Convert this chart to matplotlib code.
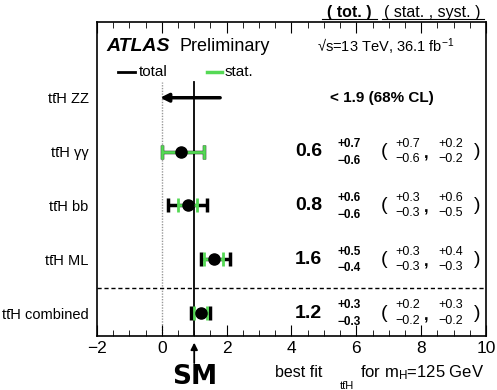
import matplotlib
matplotlib.use("Agg")
import matplotlib.pyplot as plt
from matplotlib.ticker import MultipleLocator

plt.rcParams['font.family'] = ['Liberation Sans', 'DejaVu Sans']
plt.rcParams['mathtext.fontset'] = 'custom'
plt.rcParams['mathtext.rm'] = 'Liberation Sans'
plt.rcParams['mathtext.it'] = 'Liberation Sans:italic'
plt.rcParams['mathtext.bf'] = 'Liberation Sans:bold'

# channels, bottom to top
channels = ['tt\u0304H combined', 'tt\u0304H ML', 'tt\u0304H bb', 'tt\u0304H \u03b3\u03b3', 'tt\u0304H ZZ']
mu = [1.2, 1.6, 0.8, 0.6]
tot_up = [0.3, 0.5, 0.6, 0.7]
tot_dn = [0.3, 0.4, 0.6, 0.6]
stat_up = [0.2, 0.3, 0.3, 0.7]
stat_dn = [0.2, 0.3, 0.3, 0.6]
syst_up = [0.3, 0.4, 0.6, 0.2]
syst_dn = [0.2, 0.3, 0.5, 0.2]
zz_limit = 1.9
xticks = [-2, 0, 2, 4, 6, 8, 10]

green = '#55d955'
ypos = list(range(len(mu)))

fig = plt.figure(figsize=(4.97, 3.9), dpi=100)
ax = fig.add_axes([0.195, 0.138, 0.783, 0.806])

ax.plot([1, 1], [-0.43, 4.3], color='black', lw=1.3, zorder=1)
ax.plot([0, 0], [-0.43, 4.3], color='#999999', lw=1, ls=(0, (1, 1)), zorder=1)
ax.axhline(0.47, color='black', lw=1, ls=(0, (3, 2)))

ax.errorbar(mu, ypos, xerr=[tot_dn, tot_up], fmt='none', ecolor='black',
            elinewidth=2.5, capsize=5, capthick=2.5, zorder=2)
ax.errorbar(mu, ypos, xerr=[stat_dn, stat_up], fmt='none', ecolor=green,
            elinewidth=2, capsize=5, capthick=2, zorder=3)
ax.plot(mu, ypos, 'o', color='black', ms=8, zorder=4)

# ZZ upper limit arrow
ax.annotate('', xy=(-0.05, 4), xytext=(zz_limit - 0.1, 4),
            arrowprops=dict(arrowstyle='-|>', color='black', lw=2.5,
                            mutation_scale=12, shrinkA=0, shrinkB=0))
ax.text(5.19, 4, '< %.1f (68%% CL)' % zz_limit, fontsize=11, fontweight='bold',
        va='center', ha='left')

for i in ypos:
    ax.text(4.95, i, '%.1f' % mu[i], fontsize=14, fontweight='bold',
            ha='right', va='center')
    ax.text(5.43, i + 0.14, '+%.1f' % tot_up[i], fontsize=8.5, fontweight='bold',
            ha='left', va='center')
    ax.text(5.43, i - 0.17, '\u2212%.1f' % tot_dn[i], fontsize=8.5, fontweight='bold',
            ha='left', va='center')
    ax.text(6.85, i, '(', fontsize=14, ha='center', va='center')
    ax.text(7.57, i + 0.14, '+%.1f' % stat_up[i], fontsize=9, ha='center', va='center')
    ax.text(7.57, i - 0.14, '\u2212%.1f' % stat_dn[i], fontsize=9, ha='center', va='center')
    ax.text(8.15, i - 0.05, ',', fontsize=12, fontweight='bold', ha='center', va='center')
    ax.text(8.91, i + 0.14, '+%.1f' % syst_up[i], fontsize=9, ha='center', va='center')
    ax.text(8.91, i - 0.14, '\u2212%.1f' % syst_dn[i], fontsize=9, ha='center', va='center')
    ax.text(9.72, i, ')', fontsize=14, ha='center', va='center')

# header above the axes
ax.text(5.78, 5.58, '( tot. )', fontsize=11.5, fontweight='bold', ha='center', va='center', clip_on=False)
ax.text(8.35, 5.58, '( stat. , syst. )', fontsize=11.5, ha='center', va='center', clip_on=False)
ax.plot([4.95, 6.65], [5.46, 5.46], color='black', lw=0.8, clip_on=False)
ax.plot([6.8, 9.95], [5.46, 5.46], color='black', lw=0.8, clip_on=False)

ax.text(-1.7, 4.95, 'ATLAS', fontsize=14, fontweight='bold', fontstyle='italic', va='center')
ax.text(0.56, 4.95, 'Preliminary', fontsize=13, va='center')
ax.text(4.78, 4.95, '\u221as=13 TeV, 36.1 fb$^{-1}$', fontsize=10.5, va='center')

ax.plot([-1.36, -0.83], [4.47, 4.47], color='black', lw=2, clip_on=False)
ax.text(-0.71, 4.47, 'total', fontsize=11, va='center')
ax.plot([1.39, 1.85], [4.47, 4.47], color=green, lw=2.5, clip_on=False)
ax.text(1.94, 4.47, 'stat.', fontsize=11, va='center')

# SM arrow and x label
ax.annotate('', xy=(1, -0.55), xytext=(1, -0.93), xycoords='data',
            arrowprops=dict(arrowstyle='-|>', color='black', lw=1.3,
                            mutation_scale=10, shrinkA=0, shrinkB=0),
            annotation_clip=False)
ax.text(1.02, -1.18, 'SM', fontsize=19, fontweight='bold', family='DejaVu Sans',
        ha='center', va='center', clip_on=False)
ax.text(3.49, -1.1, 'best fit', fontsize=11.5, va='center', clip_on=False)
ax.text(5.7, -1.36, 'tt\u0304H', fontsize=8, ha='center', va='center', clip_on=False)
ax.text(6.11, -1.1, 'for m$_{\\mathrm{H}}$=125 GeV', fontsize=12, va='center', clip_on=False)

ax.set_xlim(-2, 10)
ax.set_ylim(-0.43, 5.41)
ax.set_yticks(range(len(channels)))
ax.set_yticklabels(channels, fontsize=10.5)
ax.tick_params(axis='y', length=0, pad=6)
ax.set_xticks(xticks)
ax.set_xticklabels([str(t).replace('-', '\u2212') for t in xticks])
ax.xaxis.set_minor_locator(MultipleLocator(0.5))
ax.tick_params(axis='x', which='both', direction='in', top=True, labelsize=12.5)
ax.tick_params(axis='x', which='major', length=8)
ax.tick_params(axis='x', which='minor', length=4)
for s in ax.spines.values():
    s.set_linewidth(1.2)

fig.savefig('out.png', dpi=100)
